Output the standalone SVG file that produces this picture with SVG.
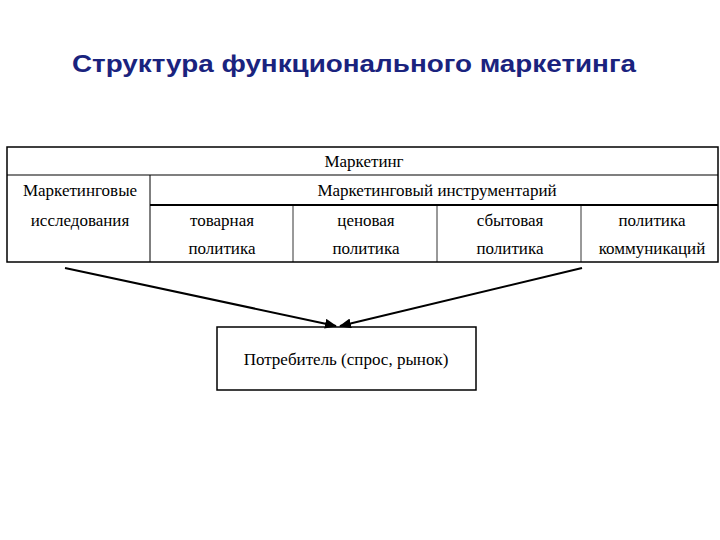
<svg xmlns="http://www.w3.org/2000/svg" width="720" height="540" viewBox="0 0 720 540">
<style>
.t{font-family:"Liberation Serif",serif;font-size:17px;fill:#000;text-anchor:middle}
.ln{stroke:#000;fill:none}
</style>
<defs><marker id="a" markerWidth="12" markerHeight="10" refX="11" refY="5" orient="auto" markerUnits="userSpaceOnUse"><path d="M0,0 L12,5 L0,10 Z" fill="#000"/></marker></defs>
<rect width="720" height="540" fill="#fff"/>
<text x="72" y="72" textLength="564" lengthAdjust="spacingAndGlyphs" style="font-family:'Liberation Sans',sans-serif;font-size:24px;font-weight:bold;fill:#1a237e">Структура функционального маркетинга</text>
<g id="table">
<rect x="7" y="147" width="711" height="115" class="ln" stroke-width="1.5"/>
<line x1="7" y1="175" x2="718" y2="175" class="ln" stroke-width="1.2"/>
<line x1="150" y1="175" x2="150" y2="262" class="ln" stroke-width="1"/>
<line x1="150" y1="205" x2="718" y2="205" class="ln" stroke-width="2"/>
<line x1="293" y1="205" x2="293" y2="262" class="ln" stroke-width="0.8"/>
<line x1="437" y1="205" x2="437" y2="262" class="ln" stroke-width="0.8"/>
<line x1="581" y1="205" x2="581" y2="262" class="ln" stroke-width="0.8"/>
<text class="t" x="364" y="167">Маркетинг</text>
<text class="t" x="80" y="196">Маркетинговые</text>
<text class="t" x="80" y="226">исследования</text>
<text class="t" x="437" y="196">Маркетинговый инструментарий</text>
<text class="t" x="222" y="226">товарная</text><text class="t" x="222" y="254">политика</text>
<text class="t" x="366" y="226">ценовая</text><text class="t" x="366" y="254">политика</text>
<text class="t" x="510" y="226">сбытовая</text><text class="t" x="510" y="254">политика</text>
<text class="t" x="652" y="226">политика</text><text class="t" x="652" y="254">коммуникаций</text>
</g>
<g id="consumer">
<rect x="217" y="327" width="259" height="63" class="ln" stroke-width="1.5"/>
<text class="t" x="346" y="365">Потребитель (спрос, рынок)</text>
</g>
<g id="connectors" stroke="#000" stroke-width="2" fill="none">
<line x1="65" y1="268" x2="336" y2="326" marker-end="url(#a)"/>
<line x1="582" y1="268" x2="340" y2="326" marker-end="url(#a)"/>
</g>
</svg>
